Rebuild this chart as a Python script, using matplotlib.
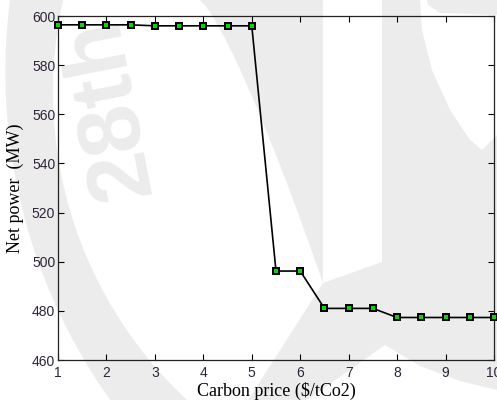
import matplotlib
matplotlib.use('Agg')
import matplotlib.pyplot as plt
from matplotlib.patches import Polygon
import numpy as np

# carbon price ($/tCO2) and net power (MW)
carbon_price = [1, 1.5, 2, 2.5, 3, 3.5, 4, 4.5, 5, 5.5, 6, 6.5, 7, 7.5, 8, 8.5, 9, 9.5, 10]
net_power = [596.4, 596.4, 596.4, 596.4, 596.0, 596.0, 596.0, 596.0, 596.0,
             496.2, 496.2, 481.0, 481.0, 481.0, 477.3, 477.3, 477.3, 477.3, 477.3]
x_ticks = [1, 2, 3, 4, 5, 6, 7, 8, 9, 10]
y_ticks = [460, 480, 500, 520, 540, 560, 580, 600]

WM = '#ececec'
TICK_COLOR = '#2e2438'


def arc_x(cx, cy, r, ys):
    return cx - np.sqrt(np.clip(r**2 - (ys - cy)**2, 0, None))


fig = plt.figure(figsize=(4.97, 4.0), dpi=100)

# watermark layer, in pixel coordinates (y down)
bg = fig.add_axes([0, 0, 1, 1], zorder=-1)
bg.set_xlim(0, 497)
bg.set_ylim(400, 0)
bg.axis('off')

ys = np.linspace(-5, 405, 80)
outer = np.column_stack([arc_x(571, 72, 565.6, ys), ys])
inner = np.column_stack([arc_x(474, 92, 421, ys[::-1]), ys[::-1]])
bg.add_patch(Polygon(np.vstack([outer, inner]), closed=True, color=WM, lw=0))

# middle tapering band
yb = np.linspace(0, 283, 40)
left_edge = np.column_stack([200 + 123 * (yb / 283) ** 0.8, yb])
band = np.vstack([[[323, 0]], [[323, 283]], left_edge[::-1]])
bg.add_patch(Polygon(band, closed=True, color=WM, lw=0))

# right block and diagonal stroke
right = [(382, 0), (497, 0), (497, 390), (460, 381), (420, 366), (385, 345),
         (300, 405), (245, 405), (323, 283), (382, 262)]
bg.add_patch(Polygon(right, closed=True, color=WM, lw=0))
crescent = [(420, 0), (422, 30), (432, 70), (450, 110), (470, 140), (482, 150),
            (497, 135), (497, 15), (440, 13), (428, 5), (427, 0)]
bg.add_patch(Polygon(crescent, closed=True, color='white', lw=0))

fig.text(110 / 497, 1 - 108 / 400, '28th', rotation=101, ha='center', va='center',
         rotation_mode='anchor', fontsize=64, fontweight='bold',
         family='Liberation Sans', color=WM, zorder=-1)

ax = fig.add_axes([58 / 497, 40 / 400, 436 / 497, 344 / 400])
ax.patch.set_alpha(0)
ax.plot(carbon_price, net_power, color='black', lw=1.2, marker='s', markersize=4.3,
        markerfacecolor='#10d010', markeredgecolor='black', markeredgewidth=1.4,
        clip_on=False, zorder=3)

ax.set_xlim(1, 10)
ax.set_ylim(460, 600)
ax.set_xticks(x_ticks)
ax.set_yticks(y_ticks)
ax.tick_params(direction='in', top=True, right=True, length=4, width=0.8,
               labelsize=10, labelcolor=TICK_COLOR)
ax.tick_params(axis='x', pad=4)
ax.tick_params(axis='y', pad=2)
for lab in ax.get_xticklabels() + ax.get_yticklabels():
    lab.set_family('Liberation Sans')
for sp in ax.spines.values():
    sp.set_linewidth(0.9)
    sp.set_color('#222222')

ax.set_xlabel('Carbon price ($/tCo2)', family='Liberation Serif', fontsize=13, labelpad=2)
ax.set_ylabel('Net power  (MW)', family='Liberation Serif', fontsize=13, labelpad=6)

fig.savefig('out.png', dpi=100)
